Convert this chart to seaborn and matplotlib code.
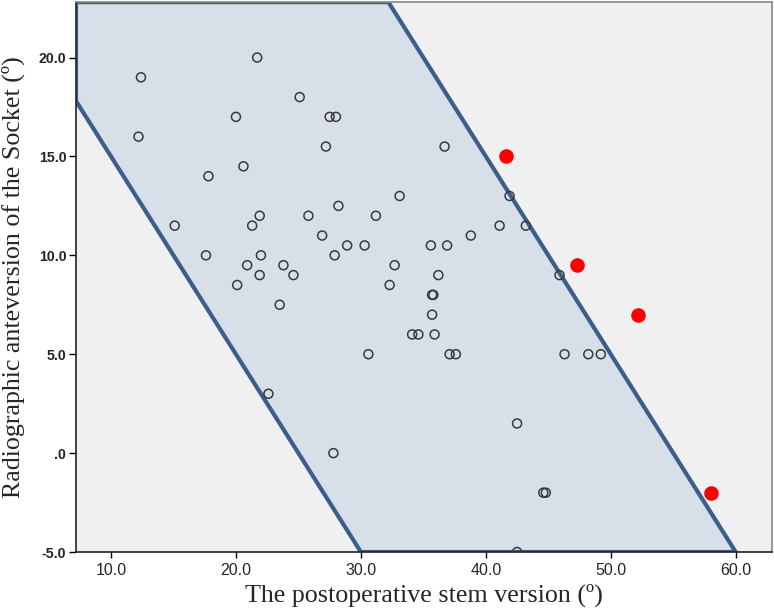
import numpy as np
import pandas as pd
import matplotlib
matplotlib.use('Agg')
import matplotlib.pyplot as plt
import seaborn as sns

# stem version (x) vs socket anteversion (y), inside the combined zone
stem_in = [12.4, 12.2, 15.1, 17.8, 17.6, 20.0, 20.1, 20.6, 20.9, 21.3, 21.7, 21.9, 22.0, 21.9,
           22.6, 23.5, 23.8, 24.6, 25.1, 25.8, 26.9, 27.2, 27.5, 28.0, 27.9, 27.8, 28.2, 28.9,
           30.3, 30.6, 31.2, 32.3, 32.7, 33.1, 34.1, 34.6, 35.6, 35.7, 35.8, 35.7, 35.9, 36.2,
           36.7, 36.9, 37.1, 37.6, 38.8, 41.1, 41.9, 43.2, 42.5, 44.6, 44.8, 42.5, 45.9, 46.3,
           48.2, 49.2]
cup_in = [19.0, 16.0, 11.5, 14.0, 10.0, 17.0, 8.5, 14.5, 9.5, 11.5, 20.0, 12.0, 10.0, 9.0,
          3.0, 7.5, 9.5, 9.0, 18.0, 12.0, 11.0, 15.5, 17.0, 17.0, 10.0, 0.0, 12.5, 10.5,
          10.5, 5.0, 12.0, 8.5, 9.5, 13.0, 6.0, 6.0, 10.5, 8.0, 8.0, 7.0, 6.0, 9.0,
          15.5, 10.5, 5.0, 5.0, 11.0, 11.5, 13.0, 11.5, 1.5, -2.0, -2.0, -5.0, 9.0, 5.0,
          5.0, 5.0]

# cases outside the zone
stem_out = [41.6, 47.3, 52.2, 58.0]
cup_out = [15.0, 9.5, 7.0, -2.0]

# combined anteversion limits: stem + cup between 25 and 55
zone_low = 25
zone_high = 55

x_ticks = [10, 20, 30, 40, 50, 60]
x_labels = ["10.0", "20.0", "30.0", "40.0", "50.0", "60.0"]
y_ticks = [-5, 0, 5, 10, 15, 20]
y_labels = ["-5.0", ".0", "5.0", "10.0", "15.0", "20.0"]

xmin, xmax = 7.2, 62.9
ymin, ymax = -5.0, 22.8

sns.set_style("white")

fig = plt.figure(figsize=(7.74, 6.12), dpi=100)
ax = fig.add_axes([0.0982, 0.098, 0.8992, 0.8985])
ax.set_facecolor("#f0f0f0")

# zone polygon clipped to the plot box
poly_x = [xmin, zone_high - ymax, zone_high - ymin, zone_low - ymin, xmin]
poly_y = [ymax, ymax, ymin, ymin, zone_low - xmin]
ax.fill(poly_x, poly_y, facecolor="#d7dfe8", edgecolor="#3b5e8c", linewidth=3,
        joinstyle="miter", zorder=1, clip_on=True)

df_in = pd.DataFrame({"stem": stem_in, "cup": cup_in})
df_out = pd.DataFrame({"stem": stem_out, "cup": cup_out})
sns.scatterplot(data=df_in, x="stem", y="cup", ax=ax, s=42, facecolor="none",
                edgecolor="#3a3a3a", linewidth=1.1, zorder=3)
sns.scatterplot(data=df_out, x="stem", y="cup", ax=ax, s=110, color="#ff0000",
                edgecolor="#ff0000", linewidth=0, zorder=4)

ax.set_xlim(xmin, xmax)
ax.set_ylim(ymin, ymax)
ax.set_xticks(x_ticks)
ax.set_xticklabels(x_labels)
ax.set_yticks(y_ticks)
ax.set_yticklabels(y_labels)

for lab in ax.get_xticklabels():
    lab.set_family(["Liberation Sans", "DejaVu Sans"])
    lab.set_fontsize(11.5)
for lab in ax.get_yticklabels():
    lab.set_family(["Liberation Sans", "DejaVu Sans"])
    lab.set_fontsize(10.2)
    lab.set_fontweight("bold")
ax.tick_params(axis="x", direction="out", length=4, width=1, color="black",
               bottom=True, pad=4)
ax.tick_params(axis="y", direction="out", length=5, width=1, color="black",
               left=True, pad=2)

for side in ["left", "bottom"]:
    ax.spines[side].set_color("#222222")
    ax.spines[side].set_linewidth(1.2)
for side in ["top", "right"]:
    ax.spines[side].set_color("#888888")
    ax.spines[side].set_linewidth(1.2)

ax.set_xlabel("The postoperative stem version (º)", family=["Liberation Serif", "DejaVu Serif"],
              fontsize=18.7, labelpad=4)
ax.set_ylabel("Radiographic anteversion of the Socket (º)", family=["Liberation Serif", "DejaVu Serif"],
              fontsize=18.7)
ax.yaxis.set_label_coords(-0.074, 0.5)

fig.savefig("out.png", dpi=100)
